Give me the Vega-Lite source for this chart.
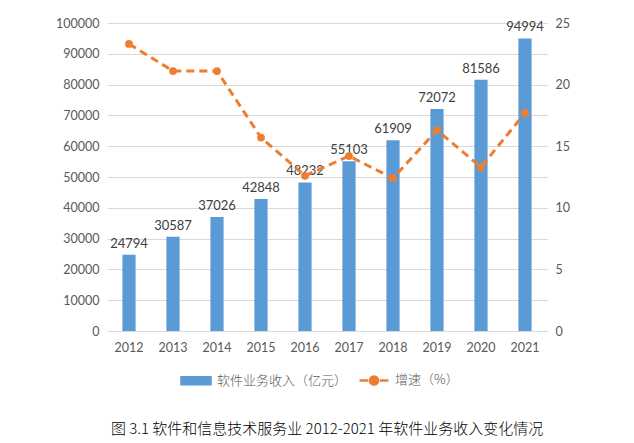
{
  "$schema": "https://vega.github.io/schema/vega-lite/v6.json",
  "width": 440,
  "height": 308,
  "autosize": {"type": "none"},
  "padding": {"left": 107, "top": 23, "right": 87, "bottom": 112},
  "background": "white",
  "config": {"view": {"stroke": null}, "font": "Lato"},
  "data": {
    "values": [
      {"year": "2012", "revenue": 24794, "growth": 23.3},
      {"year": "2013", "revenue": 30587, "growth": 21.1},
      {"year": "2014", "revenue": 37026, "growth": 21.1},
      {"year": "2015", "revenue": 42848, "growth": 15.7},
      {"year": "2016", "revenue": 48232, "growth": 12.6},
      {"year": "2017", "revenue": 55103, "growth": 14.2},
      {"year": "2018", "revenue": 61909, "growth": 12.4},
      {"year": "2019", "revenue": 72072, "growth": 16.3},
      {"year": "2020", "revenue": 81586, "growth": 13.3},
      {"year": "2021", "revenue": 94994, "growth": 17.7}
    ]
  },
  "title": {
    "text": "图 3.1 软件和信息技术服务业 2012-2021 年软件业务收入变化情况",
    "orient": "bottom",
    "anchor": "middle",
    "font": "Noto Sans CJK SC",
    "fontSize": 15,
    "fontWeight": 300,
    "color": "#000000",
    "offset": 32
  },
  "encoding": {
    "x": {
      "field": "year",
      "type": "ordinal",
      "scale": {"paddingInner": 0.7, "paddingOuter": 0.35},
      "axis": {
        "title": null,
        "labelAngle": 0,
        "labelFont": "Lato",
        "labelFontSize": 12.5,
        "labelColor": "#595959",
        "ticks": false,
        "domainColor": "#d9d9d9",
        "labelPadding": 10,
        "grid": false
      }
    }
  },
  "layer": [
    {
      "encoding": {
        "y": {
          "field": "revenue",
          "type": "quantitative",
          "scale": {"domain": [0, 100000]},
          "axis": {
            "title": null,
            "orient": "left",
            "format": "d",
            "values": [0, 10000, 20000, 30000, 40000, 50000, 60000, 70000, 80000, 90000, 100000],
            "grid": true,
            "gridColor": "#d9d9d9",
            "ticks": false,
            "domain": false,
            "labelPadding": 8,
            "labelFont": "Lato",
            "labelFontSize": 12.5,
            "labelColor": "#595959"
          }
        }
      },
      "layer": [
        {
          "mark": {"type": "bar", "color": "#5B9BD5"},
          "encoding": {
            "color": {
              "datum": "软件业务收入（亿元）",
              "scale": {"domain": ["软件业务收入（亿元）", "增速（%）"], "range": ["#5B9BD5", "#ED7D31"]},
              "legend": {
                "orient": "none",
                "legendX": 73,
                "legendY": 341,
                "direction": "horizontal",
                "title": null,
                "labelFont": "Noto Sans CJK SC",
                "labelFontSize": 13,
                "labelFontWeight": 300,
                "labelColor": "#595959",
                "symbolSize": 841,
                "labelOffset": 5,
                "columnPadding": 6,
                "encode": {
                  "symbols": {
                    "update": {
                      "shape": {"signal": "datum.value === '增速（%）' ? 'M-1,0H-0.4M0.4,0H1M0.28,0A0.28,0.28 0 1,1 -0.28,0A0.28,0.28 0 1,1 0.28,0' : 'M-1,-0.24H1V0.24H-1Z'"},
                      "fill": {"signal": "datum.value === '增速（%）' ? '#ED7D31' : '#5B9BD5'"},
                      "stroke": {"signal": "datum.value === '增速（%）' ? '#ED7D31' : 'transparent'"},
                      "strokeWidth": {"value": 2.5},
                      "opacity": {"value": 1},
                      "fillOpacity": {"value": 1},
                      "strokeOpacity": {"value": 1}
                    }
                  }
                }
              }
            }
          }
        },
        {
          "mark": {"type": "text", "dy": -11, "font": "Lato", "fontSize": 13, "color": "#404040"},
          "encoding": {"text": {"field": "revenue", "type": "quantitative", "format": "d"}}
        }
      ]
    },
    {
      "encoding": {
        "y": {
          "field": "growth",
          "type": "quantitative",
          "scale": {"domain": [0, 25]},
          "axis": {
            "title": null,
            "orient": "right",
            "values": [0, 5, 10, 15, 20, 25],
            "grid": false,
            "ticks": false,
            "domain": false,
            "labelPadding": 8,
            "labelFont": "Lato",
            "labelFontSize": 12.5,
            "labelColor": "#595959"
          }
        },
        "color": {"datum": "增速（%）"}
      },
      "layer": [
        {"mark": {"type": "line", "strokeDash": [8, 5], "strokeWidth": 3}},
        {"mark": {"type": "point", "filled": true, "size": 60, "opacity": 1}}
      ]
    }
  ],
  "resolve": {"scale": {"y": "independent"}}
}
